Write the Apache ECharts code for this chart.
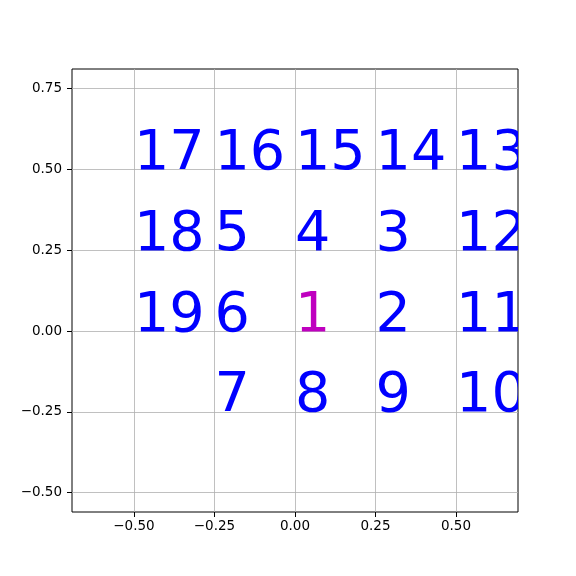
<!DOCTYPE html>
<html><head><meta charset="utf-8">
<script src="https://cdn.jsdelivr.net/npm/echarts@6/dist/echarts.min.js"></script>
<style>html,body{margin:0;padding:0;background:#fff}#c{width:576px;height:576px}</style>
</head><body><div id="c"></div>
<script>
const labels = ['1','2','3','4','5','6','7','8','9','10','11','12','13','14','15','16','17','18','19'];
const xs = [0, 0.25, 0.25, 0, -0.25, -0.25, -0.25, 0, 0.25, 0.5, 0.5, 0.5, 0.5, 0.25, 0, -0.25, -0.5, -0.5, -0.5];
const ys = [0, 0, 0.25, 0.25, 0.25, 0, -0.25, -0.25, -0.25, -0.25, 0, 0.25, 0.5, 0.5, 0.5, 0.5, 0.5, 0.25, 0];
const xTicks = [-0.5, -0.25, 0, 0.25, 0.5];
const yTicks = [-0.5, -0.25, 0, 0.25, 0.5, 0.75];
const xRange = [-0.6925, 0.6925];
const yRange = [-0.560, 0.811];

const fmt = v => (v < 0 ? '\u2212' : '') + Math.abs(v).toFixed(2);
const data = labels.map((l, i) => [xs[i], ys[i], l]);
const chart = echarts.init(document.getElementById('c'));
const axisCommon = {
  axisLine: {show: false, onZero: false},
  axisTick: {show: true, inside: false, length: 5, lineStyle: {color: '#000', width: 1}},
  axisLabel: {color: '#000', fontSize: 13.5, fontFamily: 'DejaVu Sans', formatter: fmt, margin: 7},
  splitLine: {show: true, lineStyle: {color: '#b0b0b0', width: 0.8}}
};
chart.setOption({
  animation: false,
  grid: {left: 72, right: 58, top: 69, bottom: 64, show: true, borderColor: '#000', borderWidth: 1, backgroundColor: 'transparent'},
  xAxis: Object.assign({type: 'value', min: xRange[0], max: xRange[1]}, axisCommon, {
    axisTick: Object.assign({}, axisCommon.axisTick, {customValues: xTicks}),
    axisLabel: Object.assign({}, axisCommon.axisLabel, {customValues: xTicks})
  }),
  yAxis: Object.assign({type: 'value', min: yRange[0], max: yRange[1]}, axisCommon, {
    axisTick: Object.assign({}, axisCommon.axisTick, {customValues: yTicks}),
    axisLabel: Object.assign({}, axisCommon.axisLabel, {customValues: yTicks, margin: 10})
  }),
  series: [{
    type: 'custom',
    clip: true,
    data: data,
    renderItem: function (params, api) {
      const p = api.coord([api.value(0), api.value(1)]);
      const txt = labels[params.dataIndex];
      return {
        type: 'text',
        x: p[0], y: p[1] + 13,
        style: {
          text: txt,
          fill: txt === '1' ? '#bf00bf' : '#0000ff',
          font: '55.6px "DejaVu Sans"',
          align: 'left',
          verticalAlign: 'bottom'
        }
      };
    }
  }]
});
</script></body></html>
